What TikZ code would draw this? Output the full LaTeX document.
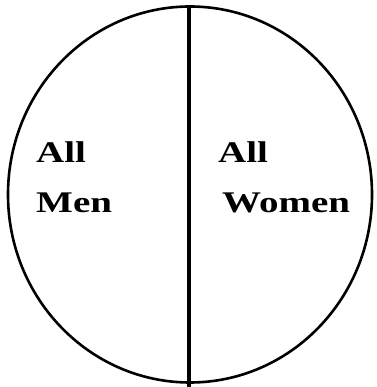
\documentclass[tikz,border=0pt]{standalone}
\usepackage{fontspec}
\newfontfamily\lblfont[FakeStretch=1.3]{Liberation Serif}
\begin{document}
\begin{tikzpicture}[x=1pt,y=1pt,
  lbl/.style={anchor=base west,inner sep=0pt,font=\lblfont\bfseries\fontsize{30}{36}\selectfont}]
\useasboundingbox[fill=white] (0,0) rectangle (376,387);
\draw[line width=2.6pt] (190,192.5) ellipse [x radius=182, y radius=188];
\coordinate (top) at (189,380.5);
\coordinate (bot) at (189,0);
\draw[line width=4pt] (top) -- (bot);
\node[lbl] (menA) at (36,224) {All};
\node[lbl] (menB) at (36,174) {Men};
\node[lbl] (womA) at (218,224) {All};
\node[lbl] (womB) at (222,174) {Women};
\end{tikzpicture}
\end{document}
